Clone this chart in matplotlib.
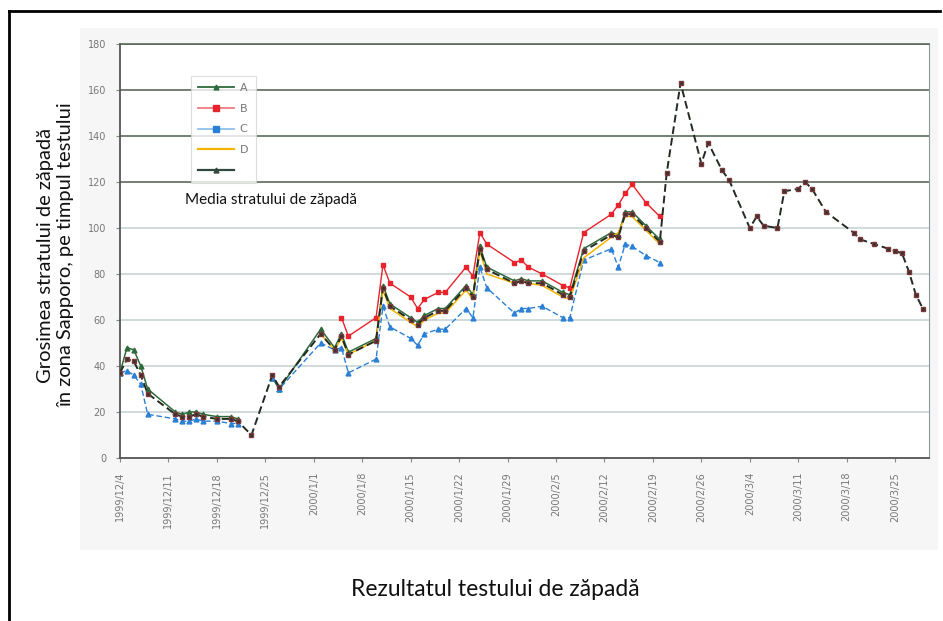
import numpy as np
import matplotlib
matplotlib.use("Agg")
import matplotlib.pyplot as plt
from matplotlib.lines import Line2D
from matplotlib.patches import Rectangle

nan = np.nan

# ---- data (day offset from 1999/12/4, snow depth in cm) ----
days = [0, 1, 2, 3, 4, 8, 9, 10, 11, 12, 14, 16, 17, 19, 22, 23,
        29, 31, 32, 33, 37, 38, 39, 42, 43, 44, 46, 47, 50, 51, 52, 53,
        57, 58, 59, 61, 64, 65, 67, 71, 72, 73, 74, 76, 78,
        79, 81, 84, 85, 87, 88, 91, 92, 93, 95, 96, 98, 99, 100, 102,
        106, 107, 109, 111, 112, 113, 114, 115, 116]

mean_depth = [37, 43, 42, 36, 28, 19, 18, 18, 19, 18, 17, 17, 16, 10, 36, 31,
              54, 47, 53, 45, 51, 74, 66, 60, 58, 61, 64, 64, 74, 70, 91, 82,
              76, 77, 76, 76, 71, 70, 90, 97, 96, 106, 106, 100, 94,
              124, 163, 128, 137, 125, 121, 100, 105, 101, 100, 116, 117, 120, 117, 107,
              98, 95, 93, 91, 90, 89, 81, 71, 65]

site_a = [37, 48, 47, 40, 30, 20, 19, 20, 20, 19, 18, 18, 17, nan, 35, 30,
          56, 48, 54, 46, 52, 75, 67, 61, 59, 62, 65, 65, 75, 71, 92, 83,
          77, 78, 77, 77, 72, 71, 91, 98, 97, 107, 107, 101, 95] + [nan] * 24

site_b = [nan] * 18 + [61, 53, 61, 84, 76, 70, 65, 69, 72, 72, 83, 79, 98, 93,
                       85, 86, 83, 80, 75, 74, 98, 106, 110, 115, 119, 111, 105] + [nan] * 24

site_c = [37, 38, 36, 32, 19, 17, 16, 16, 17, 16, 16, 15, 15, nan, 35, 30,
          50, 47, 48, 37, 43, 66, 57, 52, 49, 54, 56, 56, 65, 61, 83, 74,
          63, 65, 65, 66, 61, 61, 86, 91, 83, 93, 92, 88, 85] + [nan] * 24

site_d = [nan] * 16 + [54, 47, 52, 45, 51, 73, 65, 59, 57, 60, 63, 63, 73, 69, 90, 80,
                       76, 77, 76, 75, 70, 69, 87, 96, 98, 105, 105, 99, 93] + [nan] * 24

tick_days = list(range(0, 113, 7))
tick_labels = ["1999/12/4", "1999/12/11", "1999/12/18", "1999/12/25", "2000/1/1",
               "2000/1/8", "2000/1/15", "2000/1/22", "2000/1/29", "2000/2/5",
               "2000/2/12", "2000/2/19", "2000/2/26", "2000/3/4", "2000/3/11",
               "2000/3/18", "2000/3/25"]
y_ticks = [0, 20, 40, 60, 80, 100, 120, 140, 160, 180]

series_names = ["A", "B", "C", "D", ""]

# ---- figure ----
W, H = 943, 621
fig = plt.figure(figsize=(W / 100, H / 100), dpi=100)
fig.patch.set_facecolor("white")

# faint scanned background area
fig.add_artist(Rectangle((80 / W, 1 - 550 / H), (938 - 80) / W, (550 - 28) / H,
                         transform=fig.transFigure, facecolor="#f6f6f6",
                         edgecolor="none", zorder=0))

ax = fig.add_axes([120 / W, 1 - 458 / H, (929 - 120) / W, (458 - 44) / H])
ax.set_facecolor("white")
ax.set_zorder(1)

x = np.array(days, dtype=float)

ax.plot(x, site_a, color="#2f6a3c", lw=1.1, marker="^", ms=3.5, zorder=3, label=series_names[0])
ax.plot(x, site_b, color="#e8232b", lw=1.0, marker="s", ms=3.5, zorder=3, label=series_names[1])
ax.plot(x, site_c, color="#2b80d6", lw=1.0, ls=(0, (4, 2)), marker="^", ms=3.5, zorder=3,
        label=series_names[2])
ax.plot(x, site_d, color="#f5b400", lw=1.1, zorder=3, label=series_names[3])
ax.plot(x, mean_depth, color="#222a22", lw=1.4, ls=(0, (4, 2)), marker="s", ms=3.5,
        mfc="#3a3030", mec="#7a3a3a", zorder=4, label=series_names[4])

ax.set_xlim(0, 116.9)
ax.set_ylim(0, 180)
ax.set_xticks(tick_days)
ax.set_xticklabels(tick_labels, rotation=90, fontsize=7, color="#777777")
ax.set_yticks(y_ticks)
ax.set_yticklabels([str(v) for v in y_ticks], fontsize=7, color="#777777")
ax.tick_params(axis="both", length=3, color="#888888", pad=7)

ax.grid(axis="y", lw=1.2)
for val, gl in zip(y_ticks, ax.get_ygridlines()):
    if val >= 120:
        gl.set_color("#5a6a5a")
    else:
        gl.set_color("#c8d4d4")
ax.set_axisbelow(True)

for side in ["left", "bottom"]:
    ax.spines[side].set_color("#555555")
    ax.spines[side].set_linewidth(1.3)
ax.spines["right"].set_color("#8a9a9a")
ax.spines["top"].set_color("#5a6a5a")
ax.spines["top"].set_linewidth(1.2)

# legend
handles = [
    Line2D([], [], color="#2f6a3c", lw=1.3, marker="^", ms=3.5),
    Line2D([], [], color="#f07a80", lw=1.3, marker="s", ms=4, mfc="#e8232b", mec="#e8232b"),
    Line2D([], [], color="#8ec0ea", lw=1.3, marker="s", ms=4, mfc="#2b80d6", mec="#2b80d6"),
    Line2D([], [], color="#f5b400", lw=1.6),
    Line2D([], [], color="#2f4a3c", lw=1.6, marker="^", ms=3.5),
]
leg = ax.legend(handles, series_names, loc="upper left",
                bbox_to_anchor=((185 - 120) / 809, (458 - 70) / 414),
                fontsize=8, frameon=True, fancybox=False, handlelength=3.2,
                labelspacing=0.95, borderpad=0.7, handletextpad=0.5)
leg.get_frame().set_edgecolor("#d0d8d0")
leg.get_frame().set_linewidth(0.8)
for t in leg.get_texts():
    t.set_color("#777777")

fig.text(185 / W, 1 - 200 / H, "Media stratului de zăpadă", fontsize=11,
         family="Lato", ha="left", va="center", color="#111111", zorder=5)

fig.text(56 / W, 1 - 255 / H,
         "Grosimea stratului de zăpadă\nîn zona Sapporo, pe timpul testului",
         rotation=90, fontsize=14.5, family="Lato", ha="center", va="center",
         multialignment="center", linespacing=1.3, color="#111111")

fig.text(495 / W, 1 - 590 / H, "Rezultatul testului de zăpadă", fontsize=16.5,
         family="Lato", ha="center", va="center", color="#111111")

# outer frame (left and top)
fig.add_artist(Line2D([9 / W, 9 / W], [0, 1 - 11 / H], color="black", lw=2,
                      transform=fig.transFigure))
fig.add_artist(Line2D([9 / W, 940 / W], [1 - 11 / H, 1 - 11 / H], color="black", lw=2,
                      transform=fig.transFigure))

fig.savefig("out.png", dpi=100)
